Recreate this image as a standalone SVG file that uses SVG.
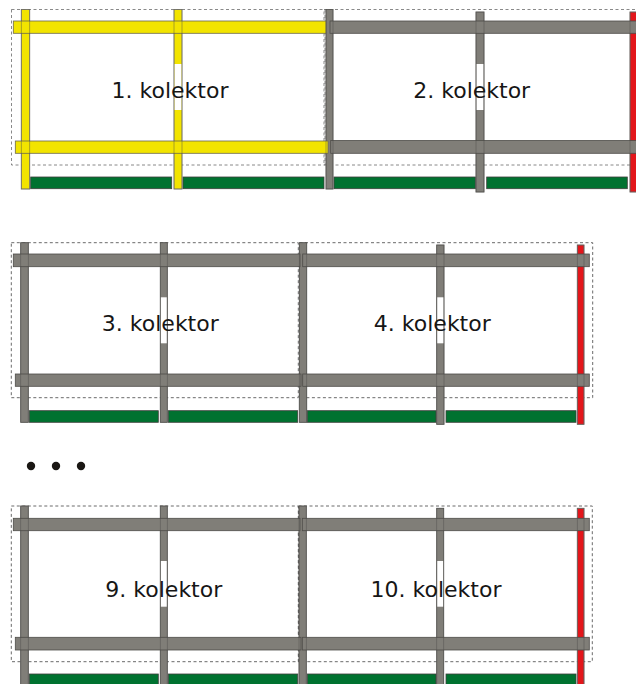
<svg xmlns="http://www.w3.org/2000/svg" width="636" height="684" viewBox="0 0 636 684">
<style>
.box{fill:none;stroke:#5a5a5a;stroke-width:0.9;stroke-dasharray:3 2.5}
.y{fill:#f2e400;stroke:#6b6850;stroke-width:0.8}
.yv{fill:#f2e400;stroke:#8a8880;stroke-width:0.8}
.g{fill:#807e78;stroke:#4d4c48;stroke-width:0.8}
.gv{fill:#807e78;stroke:#5e5d59;stroke-width:0.8}
.r{fill:#e3161b;stroke:#7a6f6a;stroke-width:0.8}
.gr{fill:#007230;stroke:#3f3f3c;stroke-width:0.8}
.gap{fill:#fff;stroke:none}
.vo{fill:none;stroke:#4d4c48;stroke-width:0.8;stroke-opacity:0.55}
.lbl{font-family:"DejaVu Sans",sans-serif;font-size:22px;fill:#161616;text-anchor:middle}
</style>
<rect width="636" height="684" fill="#fff"/>

<!-- Row 1 -->
<g id="row1">
  <rect class="box" x="11.5" y="9.5" width="313.5" height="155.5" stroke-opacity="0.8"/>
  <rect class="box" x="324" y="9.5" width="320" height="155.5" stroke-opacity="0.8"/>
  <rect class="yv" x="21.3" y="9.5" width="8.4" height="179.5"/>
  <rect class="yv" x="174" y="9.5" width="8" height="179.5"/>
  <rect class="gap" x="174.5" y="64" width="7" height="46"/>
  <rect class="gv" x="326" y="9.5" width="7" height="179.5"/>
  <rect class="gv" x="476" y="12" width="8" height="180"/>
  <rect class="gap" x="476.5" y="64" width="7" height="46"/>
  <rect class="r" x="630" y="12" width="8" height="180"/>
  <rect class="y" x="13.3" y="21" width="312.7" height="12.3"/>
  <rect class="y" x="15.3" y="141" width="312.7" height="12.3"/>
  <rect class="g" x="330" y="21" width="312" height="12.3"/>
  <rect class="g" x="330.7" y="140.5" width="312" height="12.8"/>
  <rect class="vo" x="21.3" y="9.5" width="8.4" height="179.5"/>
  <rect class="vo" x="174" y="9.5" width="8" height="179.5"/>
  <rect class="vo" x="326" y="9.5" width="7" height="179.5"/>
  <rect class="vo" x="476" y="12" width="8" height="180"/>
  <rect class="vo" x="630" y="12" width="8" height="180"/>
  <rect class="gr" x="30.7" y="177" width="141" height="11.7"/>
  <rect class="gr" x="183" y="177" width="141" height="11.7"/>
  <rect class="gr" x="334" y="177" width="141.3" height="11.7"/>
  <rect class="gr" x="486.7" y="177" width="140.6" height="11.7"/>
  <g id="kolektor1"><text class="lbl" x="170" y="97.5">1. kolektor</text></g>
  <g id="kolektor2"><text class="lbl" x="471.7" y="97.5">2. kolektor</text></g>
</g>

<!-- Row 2 -->
<g id="row2">
  <rect class="box" x="11.3" y="242.7" width="287" height="155"/>
  <rect class="box" x="299.5" y="242.7" width="293.2" height="155"/>
  <rect class="gv" x="20.7" y="242.7" width="7.6" height="179.6"/>
  <rect class="gv" x="160.3" y="242.7" width="7" height="179.6"/>
  <rect class="gap" x="160.8" y="297.3" width="6" height="46"/>
  <rect class="gv" x="299.3" y="242.7" width="7.4" height="179.6"/>
  <rect class="gv" x="436.7" y="245" width="7.3" height="179.3"/>
  <rect class="gap" x="437.2" y="297.3" width="6.3" height="46"/>
  <rect class="r" x="577.3" y="245" width="6.7" height="179.3"/>
  <rect class="g" x="13.3" y="254" width="286.7" height="12.7"/>
  <rect class="g" x="15.3" y="374" width="285.7" height="12.3"/>
  <rect class="g" x="302.7" y="254" width="286.6" height="12.7"/>
  <rect class="g" x="302.7" y="374" width="286.6" height="12.3"/>
  <rect class="vo" x="20.7" y="242.7" width="7.6" height="179.6"/>
  <rect class="vo" x="160.3" y="242.7" width="7" height="179.6"/>
  <rect class="vo" x="299.3" y="242.7" width="7.4" height="179.6"/>
  <rect class="vo" x="436.7" y="245" width="7.3" height="179.3"/>
  <rect class="vo" x="577.3" y="245" width="6.7" height="179.3"/>
  <rect class="gr" x="29.3" y="410.7" width="129" height="11.6"/>
  <rect class="gr" x="168.3" y="410.7" width="129.4" height="11.6"/>
  <rect class="gr" x="307.3" y="410.7" width="128.7" height="11.6"/>
  <rect class="gr" x="446" y="410.7" width="130" height="11.6"/>
  <g id="kolektor3"><text class="lbl" x="160.3" y="331">3. kolektor</text></g>
  <g id="kolektor4"><text class="lbl" x="432.3" y="331">4. kolektor</text></g>
</g>

<!-- Ellipsis -->
<g id="dots" fill="#1a1714">
  <circle cx="31" cy="466" r="4.2"/>
  <circle cx="56" cy="466" r="4.2"/>
  <circle cx="81" cy="466" r="4.2"/>
</g>

<!-- Row 3 -->
<g id="row3">
  <rect class="box" x="11.3" y="506" width="287" height="155.7"/>
  <rect class="box" x="298.5" y="506" width="293.8" height="155.7"/>
  <rect class="gv" x="20.7" y="506" width="7.6" height="182"/>
  <rect class="gv" x="160.3" y="506" width="7" height="182"/>
  <rect class="gap" x="160.8" y="561" width="6" height="45.7"/>
  <rect class="gv" x="299" y="506" width="7.3" height="182"/>
  <rect class="gv" x="436.7" y="508.3" width="7" height="180"/>
  <rect class="gap" x="437.2" y="561" width="6" height="45.7"/>
  <rect class="r" x="577.3" y="508.3" width="6.7" height="180"/>
  <rect class="g" x="13.3" y="518.3" width="286.7" height="12.4"/>
  <rect class="g" x="15.3" y="637.3" width="285.7" height="12.7"/>
  <rect class="g" x="302.3" y="518.3" width="287" height="12.4"/>
  <rect class="g" x="302.3" y="637.3" width="287" height="12.7"/>
  <rect class="vo" x="20.7" y="506" width="7.6" height="182"/>
  <rect class="vo" x="160.3" y="506" width="7" height="182"/>
  <rect class="vo" x="299" y="506" width="7.3" height="182"/>
  <rect class="vo" x="436.7" y="508.3" width="7" height="180"/>
  <rect class="vo" x="577.3" y="508.3" width="6.7" height="180"/>
  <rect class="gr" x="29.3" y="674" width="129" height="14"/>
  <rect class="gr" x="168.3" y="674" width="129.4" height="14"/>
  <rect class="gr" x="307.3" y="674" width="128.7" height="14"/>
  <rect class="gr" x="446" y="674" width="130" height="14"/>
  <g id="kolektor9"><text class="lbl" x="163.8" y="596.7">9. kolektor</text></g>
  <g id="kolektor10"><text class="lbl" x="436" y="596.7">10. kolektor</text></g>
</g>

<g id="connectors"/>
</svg>
